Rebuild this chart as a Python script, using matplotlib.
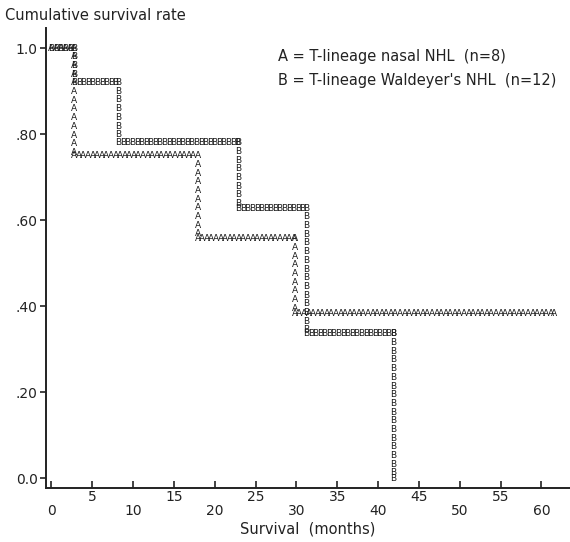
import numpy as np
import matplotlib
matplotlib.use('Agg')
import matplotlib.pyplot as plt

# Kaplan-Meier steps (months, cumulative survival)
tempo_a = [0, 2.8, 17.9, 29.8]
sobrev_a = [1.0, 0.75, 0.557, 0.383]
fim_a = 61.5

tempo_b = [0, 2.8, 8.2, 22.9, 31.2, 41.9]
sobrev_b = [1.0, 0.92, 0.78, 0.628, 0.336, 0.0]
fim_b = 41.9

legenda = ["A = T-lineage nasal NHL  (n=8)",
           "B = T-lineage Waldeyer's NHL  (n=12)"]
xticks_pares = [0, 10, 20, 30, 40, 50, 60]
xticks_impares = [5, 15, 25, 35, 45, 55]
yticks = [0.0, 0.2, 0.4, 0.6, 0.8, 1.0]
yrotulos = ['0.0', '.20', '.40', '.60', '.80', '1.0']


def pontos_degrau(t, s, fim, dx=0.56, dy=0.0202):
    # letras espaçadas ao longo da curva em degrau, como numa impressora de linha
    xs, ys = [], []
    for i in range(len(t)):
        t0 = t[i]
        t1 = t[i + 1] if i + 1 < len(t) else fim
        hx = list(np.arange(t0, t1, dx))
        if i + 1 == len(t):
            hx.append(t1)
        xs += hx
        ys += [s[i]] * len(hx)
        if i + 1 < len(t):
            vy = list(np.arange(s[i], s[i + 1], -dy))
            xs += [t1] * len(vy)
            ys += vy
    return xs, ys


fig = plt.figure(figsize=(5.7, 5.42), dpi=100)
ax = fig.add_axes([0.0807, 0.099, 0.9193, 0.8495])

for letra, t, s, fim in [('A', tempo_a, sobrev_a, fim_a), ('B', tempo_b, sobrev_b, fim_b)]:
    xs, ys = pontos_degrau(t, s, fim)
    for x, y in zip(xs, ys):
        ax.text(x, y, letra, fontsize=6.5, ha='center', va='center', color='#1a1a1a')

ax.set_xlim(-0.67, 63.5)
ax.set_ylim(-0.023, 1.047)

for lado in ['top', 'right']:
    ax.spines[lado].set_visible(False)
for lado in ['left', 'bottom']:
    ax.spines[lado].set_linewidth(1.4)
    ax.spines[lado].set_color('#222222')

ax.set_xticks(xticks_pares)
ax.set_xticklabels([str(v) for v in xticks_pares])
ax.set_xticks(xticks_impares, minor=True)
ax.set_xticklabels([str(v) for v in xticks_impares], minor=True)
ax.tick_params(axis='x', which='major', direction='in', length=5, width=1.2,
               pad=11, labelsize=10, colors='#222222')
ax.tick_params(axis='x', which='minor', direction='in', length=5, width=1.2,
               pad=1.5, labelsize=10, colors='#222222')

ax.set_yticks(yticks)
ax.set_yticklabels(yrotulos)
ax.tick_params(axis='y', direction='out', length=4, width=1.2, pad=2,
               labelsize=10, colors='#222222')

ax.set_xlabel('Survival  (months)', fontsize=10.5, labelpad=3, color='#222222')
fig.text(0.009, 0.972, 'Cumulative survival rate', fontsize=10.5,
         ha='left', va='center', color='#222222')

ax.text(0.488, 0.895, legenda[0], fontsize=10.5, transform=fig.transFigure,
        ha='left', va='center', color='#222222')
ax.text(0.488, 0.852, legenda[1], fontsize=10.5, transform=fig.transFigure,
        ha='left', va='center', color='#222222')

fig.savefig('out.png', dpi=100)
